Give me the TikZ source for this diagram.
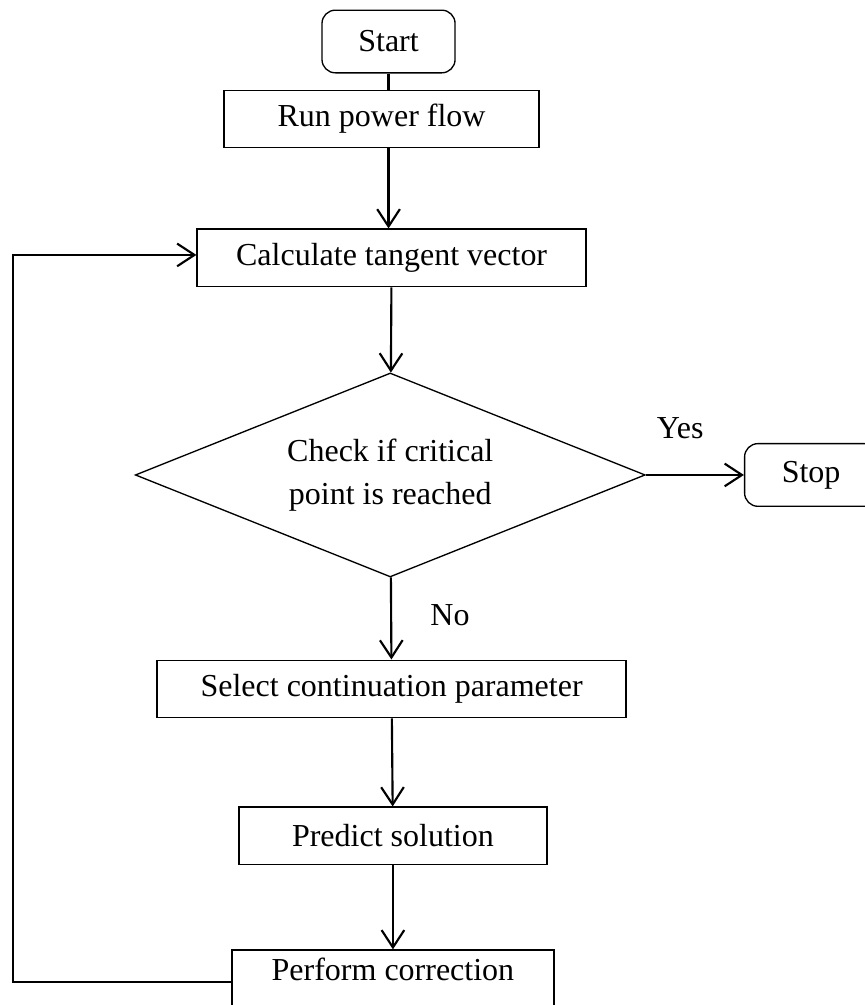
\documentclass[tikz,border=0pt]{standalone}
\usepackage{fontspec}
\setmainfont{Liberation Serif}
\usepackage{tikz}
\usetikzlibrary{arrows.meta,positioning,shapes.geometric}

\begin{document}
\begin{tikzpicture}[
    every node/.style={font=\fontsize{12}{16}\selectfont},
    flowbox/.style={
      draw=black,
      line width=0.5pt,
      rectangle,
      minimum height=21.6pt,
      align=center
    },
    termbox/.style={
      flowbox,
      rounded corners=5pt,
      minimum width=49.9pt,
      minimum height=23.5pt
    },
    decisionbox/.style={
      draw=black,
      line width=0.5pt,
      diamond,
      aspect=2.5,
      inner sep=0pt,
      minimum width=191.25pt,
      minimum height=76.5pt,
      align=center
    },
    arrow/.style={-{Straight Barb[length=6.5pt,width=8.5pt]}, line width=0.8pt},
    link/.style={line width=0.8pt}
  ]
    \useasboundingbox (0,0) rectangle (324.375pt,-376.875pt);

    \node[termbox] (start) at (145.7pt,-15.56pt) {Start};
    \node[flowbox, minimum width=118.1pt, below=6pt of start, xshift=-2.6pt]
      (run) {Run power flow};
    \node[flowbox, minimum width=145.9pt, below=30pt of run, xshift=3.75pt]
      (calc) {Calculate tangent vector};
    \node[decisionbox, below=31.85pt of calc, xshift=-0.5pt]
      (check) {Check if critical\\point is reached};
    \node[termbox, right=36.75pt of check] (stop) {Stop};
    \node[flowbox, minimum width=175.9pt, below=30.7pt of check, xshift=0.5pt]
      (select) {Select continuation parameter};
    \node[flowbox, minimum width=115.5pt, below=33pt of select, xshift=0.5pt]
      (predict) {Predict solution};
    \node[flowbox, minimum width=120.75pt, minimum height=24pt,
      inner ysep=2pt, text depth=9.5pt, below=31.5pt of predict]
      (correct) {Perform correction};
    \coordinate (back) at (4.875pt,-95.6pt);

    \draw[link] (start.south) -- (start.south |- run.north);
    \draw[arrow] (run.south -| start.south) -- (calc.north -| start.south);
    \draw[arrow] (calc) -- (check);
    \draw[arrow] (check) -- node[pos=0.35, above=10pt] {Yes} (stop);
    \draw[arrow] (check) -- node[pos=0.46, right=11pt] {No} (select);
    \draw[arrow] (select) -- (predict);
    \draw[arrow] (predict) -- (correct);
    \draw[arrow] (correct.west) -| (back) -- (back -| calc.west);
  \end{tikzpicture}
\end{document}
